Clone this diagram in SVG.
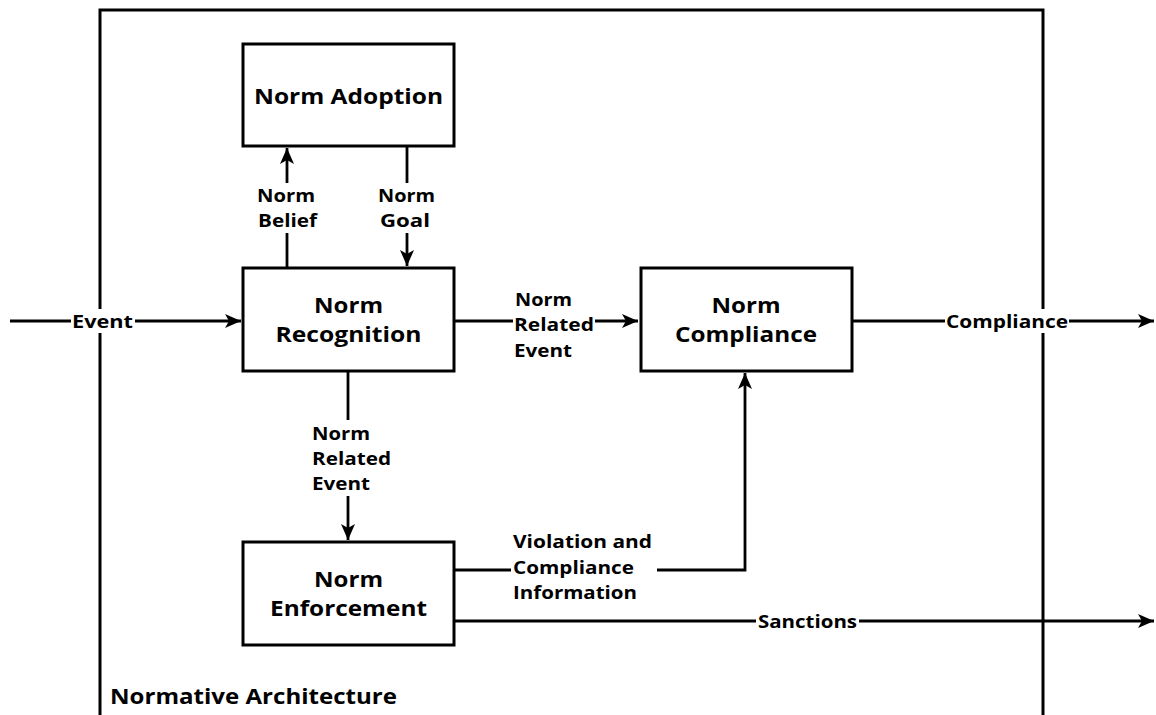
<svg xmlns="http://www.w3.org/2000/svg" width="1156" height="715" viewBox="0 0 1156 715">
<style>
.box{fill:#fff;stroke:#000;stroke-width:3}
.ln{fill:none;stroke:#000;stroke-width:2.8}
.t{font-family:"Open Sans","DejaVu Sans",sans-serif;font-weight:bold;fill:#000}
.title{font-size:21px;text-anchor:middle}
.lab{font-size:17px}
.big{font-size:18px}
.mid{text-anchor:middle}
.bg{fill:#fff}
</style>
<defs>
<marker id="ah" markerUnits="userSpaceOnUse" markerWidth="18" markerHeight="16" viewBox="0 0 18 16" refX="16" refY="8" orient="auto">
<path d="M0,1 L16,8 L0,15 L4,8 Z" fill="#000"/>
</marker>
</defs>
<rect width="1156" height="715" fill="#fff"/>
<g id="outer">
<path d="M100,716 V10 H1043 V716" fill="none" stroke="#000" stroke-width="3"/>
<text class="t" x="110" y="703.5" font-size="21" textLength="287" lengthAdjust="spacingAndGlyphs">Normative Architecture</text>
</g>
<g id="connectors">
<line class="ln" x1="10" y1="321" x2="241" y2="321" marker-end="url(#ah)"/>
<rect class="bg" x="71" y="309" width="64" height="24"/>
<text class="t big" x="72" y="327.5" textLength="61" lengthAdjust="spacingAndGlyphs">Event</text>
<line class="ln" x1="287" y1="268" x2="287" y2="233"/>
<line class="ln" x1="287" y1="183" x2="287" y2="148" marker-end="url(#ah)"/>
<text class="t lab" x="257" y="202" textLength="58" lengthAdjust="spacingAndGlyphs">Norm</text>
<text class="t lab" x="258" y="227" textLength="59" lengthAdjust="spacingAndGlyphs">Belief</text>
<line class="ln" x1="407" y1="146" x2="407" y2="183"/>
<line class="ln" x1="407" y1="233" x2="407" y2="266" marker-end="url(#ah)"/>
<text class="t lab" x="378" y="202" textLength="57" lengthAdjust="spacingAndGlyphs">Norm</text>
<text class="t lab" x="380" y="227" textLength="50" lengthAdjust="spacingAndGlyphs">Goal</text>
<line class="ln" x1="455" y1="321" x2="513" y2="321"/>
<line class="ln" x1="595" y1="321" x2="638" y2="321" marker-end="url(#ah)"/>
<text class="t lab" x="515" y="306" textLength="57" lengthAdjust="spacingAndGlyphs">Norm</text>
<text class="t lab" x="514" y="331" textLength="80" lengthAdjust="spacingAndGlyphs">Related</text>
<text class="t lab" x="514" y="356.5" textLength="58" lengthAdjust="spacingAndGlyphs">Event</text>
<line class="ln" x1="852" y1="321" x2="1154" y2="321" marker-end="url(#ah)"/>
<rect class="bg" x="945" y="309" width="124" height="24"/>
<text class="t big" x="946" y="327.5" textLength="122" lengthAdjust="spacingAndGlyphs">Compliance</text>
<line class="ln" x1="348" y1="371" x2="348" y2="420"/>
<line class="ln" x1="348" y1="496" x2="348" y2="540" marker-end="url(#ah)"/>
<text class="t lab" x="312" y="439.5" textLength="58" lengthAdjust="spacingAndGlyphs">Norm</text>
<text class="t lab" x="312" y="464.5" textLength="79" lengthAdjust="spacingAndGlyphs">Related</text>
<text class="t lab" x="312" y="489.5" textLength="58" lengthAdjust="spacingAndGlyphs">Event</text>
<line class="ln" x1="455" y1="570" x2="511" y2="570"/>
<polyline class="ln" points="657,570 745,570 745,373" marker-end="url(#ah)"/>
<text class="t lab" x="513" y="547.5" textLength="139" lengthAdjust="spacingAndGlyphs">Violation and</text>
<text class="t lab" x="513" y="573.5" textLength="121" lengthAdjust="spacingAndGlyphs">Compliance</text>
<text class="t lab" x="513" y="598.5" textLength="124" lengthAdjust="spacingAndGlyphs">Information</text>
<line class="ln" x1="455" y1="621" x2="1154" y2="621" marker-end="url(#ah)"/>
<rect class="bg" x="756" y="609" width="103" height="24"/>
<text class="t big" x="758" y="627.5" textLength="99" lengthAdjust="spacingAndGlyphs">Sanctions</text>
</g>
<g id="norm-adoption">
<rect class="box" x="243" y="44" width="211" height="102"/>
<text class="t title" x="348.5" y="104" textLength="189" lengthAdjust="spacingAndGlyphs">Norm Adoption</text>
</g>
<g id="norm-recognition">
<rect class="box" x="243" y="268" width="211" height="103"/>
<text class="t title" x="348.5" y="313" textLength="69" lengthAdjust="spacingAndGlyphs">Norm</text>
<text class="t title" x="348.5" y="342" textLength="146" lengthAdjust="spacingAndGlyphs">Recognition</text>
</g>
<g id="norm-compliance">
<rect class="box" x="641" y="268" width="211" height="103"/>
<text class="t title" x="746" y="313" textLength="69" lengthAdjust="spacingAndGlyphs">Norm</text>
<text class="t title" x="746" y="342" textLength="142" lengthAdjust="spacingAndGlyphs">Compliance</text>
</g>
<g id="norm-enforcement">
<rect class="box" x="243" y="542" width="211" height="103"/>
<text class="t title" x="348.5" y="587" textLength="69" lengthAdjust="spacingAndGlyphs">Norm</text>
<text class="t title" x="348.5" y="616" textLength="157" lengthAdjust="spacingAndGlyphs">Enforcement</text>
</g>
</svg>
